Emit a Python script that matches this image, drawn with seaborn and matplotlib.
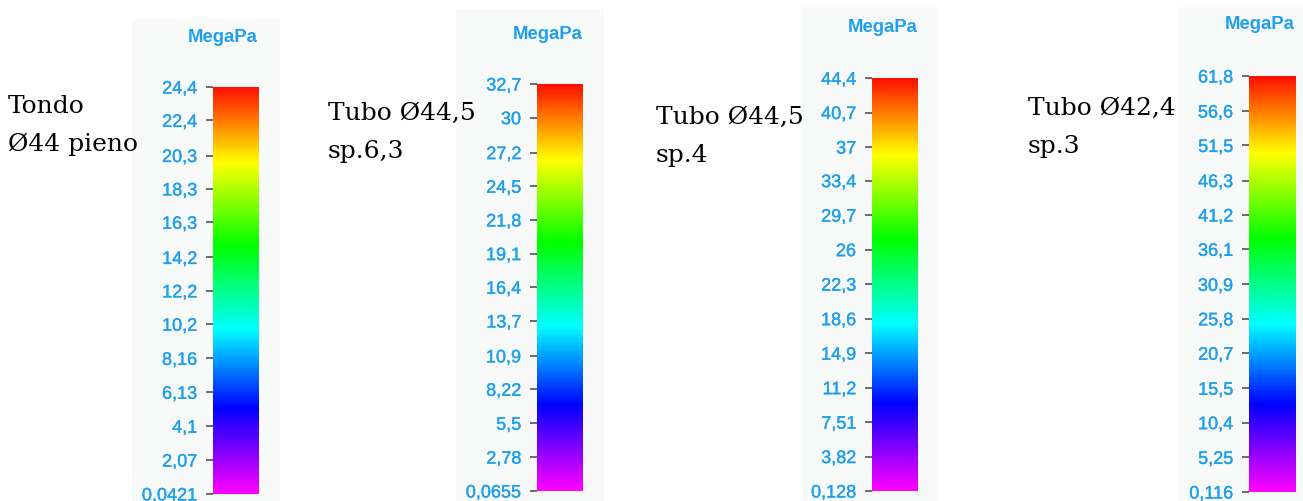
import pandas as pd
import seaborn as sns
import matplotlib.pyplot as plt
import matplotlib.patheffects as pe
from matplotlib.colors import LinearSegmentedColormap
from matplotlib.patches import Rectangle

# figure size in pixels (dpi 100)
W, H = 1303, 502

# --- data ---
titles = [
    ["Tondo", "Ø44 pieno"],
    ["Tubo Ø44,5", "sp.6,3"],
    ["Tubo Ø44,5", "sp.4"],
    ["Tubo Ø42,4", "sp.3"],
]
unit = "MegaPa"
ticks_tondo = ["0,0421", "2,07", "4,1", "6,13", "8,16", "10,2", "12,2",
               "14,2", "16,3", "18,3", "20,3", "22,4", "24,4"]
ticks_tubo_63 = ["0,0655", "2,78", "5,5", "8,22", "10,9", "13,7", "16,4",
                 "19,1", "21,8", "24,5", "27,2", "30", "32,7"]
ticks_tubo_4 = ["0,128", "3,82", "7,51", "11,2", "14,9", "18,6", "22,3",
                "26", "29,7", "33,4", "37", "40,7", "44,4"]
ticks_tubo_3 = ["0,116", "5,25", "10,4", "15,5", "20,7", "25,8", "30,9",
                "36,1", "41,2", "46,3", "51,5", "56,6", "61,8"]
tick_labels = [ticks_tondo, ticks_tubo_63, ticks_tubo_4, ticks_tubo_3]

# --- layout in pixels: (left, top, right, bottom) ---
panel_boxes = [(132, 20, 280, 502), (456, 10, 604, 502),
               (802, 8, 939, 502), (1179, 8, 1303, 502)]
bar_boxes = [(213, 88, 259, 495), (537, 85, 583, 492),
             (872, 79, 918, 492), (1249, 77, 1296, 493)]
unit_pos = [(223, 42), (548, 39), (883, 32), (1260, 29)]
title_pos = [(8, 113), (328, 120), (656, 124), (1028, 115)]
title_gap = 38

BLUE = "#1ea0ec"
PANEL = "#f8f9f9"

stress_cmap = LinearSegmentedColormap.from_list(
    "fem_stress",
    [(0.0, "#ff00ff"), (0.21, "#0000ff"), (0.405, "#00ffff"),
     (0.61, "#00ff00"), (0.815, "#ffff00"), (1.0, "#ff1000")],
)

sns.set_theme(style="white")
plt.rcParams["font.family"] = ["Liberation Sans", "DejaVu Sans"]

fig = plt.figure(figsize=(W / 100, H / 100), dpi=100)
fig.patch.set_facecolor("white")


def fig_rect(box):
    l, t, r, b = box
    return [l / W, 1 - b / H, (r - l) / W, (b - t) / H]


# a touch of stroke makes the labels look like the original's heavier rendering
thicken = [pe.withStroke(linewidth=0.25, foreground=BLUE)]

for i, labels in enumerate(tick_labels):
    values = [float(s.replace(",", ".")) for s in labels]

    # light gray panel behind each colour scale
    l, b, w, h = fig_rect(panel_boxes[i])
    fig.patches.append(Rectangle((l, b), w, h, transform=fig.transFigure,
                                 facecolor=PANEL, edgecolor="none", zorder=-1))

    # the scale is the colorbar of a tiny heatmap spanning min..max
    df = pd.DataFrame({unit: [values[0], values[-1]]})
    hax = fig.add_axes([0, 0, 0.01, 0.01])
    cax = fig.add_axes(fig_rect(bar_boxes[i]))
    sns.heatmap(df, ax=hax, cbar_ax=cax, cmap=stress_cmap,
                vmin=values[0], vmax=values[-1])
    hax.set_visible(False)

    cb = hax.collections[0].colorbar
    cb.outline.set_visible(False)
    cb.set_ticks(values, labels=labels)
    cb.ax.minorticks_off()
    cb.ax.yaxis.set_ticks_position("left")
    cb.ax.tick_params(axis="y", length=5, width=1.1, color="#444444",
                      pad=6.5, labelsize=13, labelcolor=BLUE)
    for t in cb.ax.get_yticklabels():
        t.set_path_effects(thicken)

    ux, uy = unit_pos[i]
    fig.text(ux / W, 1 - uy / H, unit, ha="center", va="baseline",
             fontsize=13.3, fontweight="bold", color=BLUE)

    tx, ty = title_pos[i]
    for k, line in enumerate(titles[i]):
        fig.text(tx / W, 1 - (ty + k * title_gap) / H, line, ha="left",
                 va="baseline", fontsize=18, color="black",
                 family=["DejaVu Serif"])

fig.savefig("out.png", dpi=100)
